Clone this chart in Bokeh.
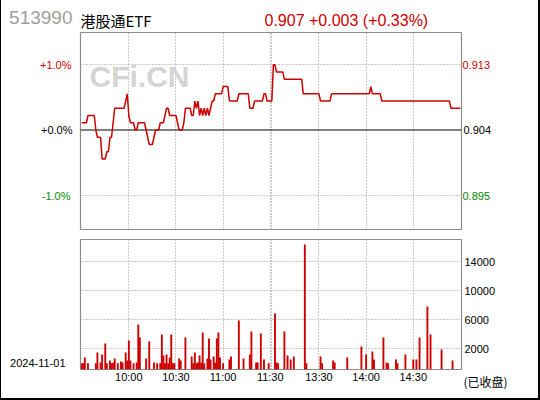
from bokeh.plotting import figure
from bokeh.models import Range1d, LinearAxis, FixedTicker, Grid, Span, Label
from bokeh.layouts import column
from bokeh.embed import file_html
from bokeh.resources import INLINE

# ---------------- data ----------------
symbol = "513990"
name = "港股通ETF"
trade_date = "2024-11-01"
status = "(已收盘)"
prev_close = 0.904
last_price = 0.907

# minute index from 9:30 (0) ... 11:30 (120), 13:00 (121) ... 15:00 (241)
price_minutes = [0, 3, 4, 8, 9, 10, 12, 13, 15, 16, 17, 18, 19, 20, 21, 27, 28, 29, 30, 31,
                 33, 34, 35, 36, 40, 41, 42, 43, 45, 46, 47, 49, 50, 52, 53, 54, 55, 56, 60, 61,
                 62, 64, 65, 66, 69, 70, 71, 72, 73, 74, 75, 76, 77, 78, 79, 80, 81, 82, 83, 84,
                 85, 89, 90, 93, 94, 99, 100, 106, 107, 109, 110, 115, 116, 117, 118, 121, 122, 123, 124, 128,
                 129, 140, 141, 151, 152, 158, 159, 183, 184, 185, 190, 191, 234, 235, 241]
prices = [0.905, 0.905, 0.906, 0.906, 0.904, 0.903, 0.903, 0.900, 0.900, 0.901, 0.901, 0.903, 0.903, 0.905, 0.907, 0.907, 0.908, 0.909, 0.906, 0.905,
          0.905, 0.904, 0.904, 0.905, 0.905, 0.904, 0.903, 0.902, 0.902, 0.903, 0.904, 0.904, 0.905, 0.905, 0.906, 0.907, 0.907, 0.906, 0.906, 0.905,
          0.904, 0.904, 0.905, 0.907, 0.907, 0.906, 0.906, 0.908, 0.907, 0.908, 0.906, 0.907, 0.906, 0.907, 0.906, 0.907, 0.906, 0.907, 0.908, 0.908,
          0.909, 0.909, 0.910, 0.910, 0.908, 0.908, 0.909, 0.909, 0.907, 0.907, 0.908, 0.908, 0.909, 0.909, 0.908, 0.908, 0.913, 0.913, 0.912, 0.912,
          0.911, 0.911, 0.909, 0.909, 0.908, 0.908, 0.909, 0.909, 0.910, 0.909, 0.909, 0.908, 0.908, 0.907, 0.907]

vol_minutes = [0, 1, 2, 4, 9, 10, 12, 13, 15, 16, 18, 19, 20, 21, 23, 25, 26, 28, 29, 30,
               31, 33, 35, 36, 37, 41, 43, 46, 48, 50, 51, 52, 53, 54, 55, 56, 57, 58, 59, 62,
               63, 66, 70, 71, 72, 73, 74, 75, 76, 77, 78, 80, 81, 82, 84, 85, 86, 87, 88, 90,
               94, 95, 100, 103, 107, 108, 111, 112, 114, 116, 119, 123, 124, 125, 129, 131, 133, 135, 142, 143,
               152, 153, 160, 161, 169, 178, 181, 185, 186, 192, 194, 195, 200, 201, 206, 211, 213, 215, 220, 222,
               229, 236]
volumes = [0, 0, 800, 0, 0, 1490, 110, 1210, 2730, 0, 390, 0, 110, 660, 0, 250, 110, 1490, 390, 3150,
           390, 0, 110, 5350, 3560, 660, 3010, 110, 0, 0, 3970, 1080, 0, 1210, 0, 800, 3970, 0, 0, 660,
           390, 3560, 940, 0, 1490, 0, 110, 1080, 110, 4250, 0, 660, 3420, 515, 940, 110, 3420, 4250, 800, 0,
           515, 940, 5910, 660, 1210, 4380, 110, 110, 4110, 515, 0, 6870, 110, 0, 4380, 1080, 515, 940, 16400, 0,
           940, 0, 390, 110, 800, 2320, 1210, 1630, 515, 3560, 110, 0, 515, 0, 1210, 515, 515, 3560, 7840, 3970,
           1900, 390]

time_ticks = [30, 60, 90, 120, 151, 181, 211]
time_labels = ["10:00", "10:30", "11:00", "11:30", "13:30", "14:00", "14:30"]
grid_minutes = [30, 60, 90, 120, 121, 151, 181, 211]
vol_ticks = [2000, 6000, 10000, 14000]

# ---------------- style ----------------
RED = "#cc0000"
GREEN = "#008c00"
GRID = "#959595"
FRAME = "#8c8c8c"
FONT = "Liberation Sans"
CJK = "Noto Sans CJK SC"
W = 537          # + 1px left and 2px right page border = 540
BL, BR = 79, 77  # frame from page x 80 to 461
HDR = 31

X0, X1 = -0.76, 241.7
P0, P1 = -1.519, 1.489
V0, V1 = -855, 17076

pct = [(p - prev_close) / prev_close * 100 for p in prices]
chg = last_price - prev_close
chg_pct = chg / prev_close * 100
header = f"{last_price:.3f} {chg:+.3f} ({chg_pct:+.2f}%)"

xr = Range1d(X0, X1)


def style_axis(ax, standoff, color="black", font=FONT, size="11px"):
    ax.axis_line_color = None
    ax.major_tick_line_color = None
    ax.minor_tick_line_color = None
    ax.major_tick_out = 0
    ax.major_tick_in = 0
    ax.minor_tick_out = 0
    ax.minor_tick_in = 0
    ax.major_label_standoff = standoff
    ax.major_label_text_font = font
    ax.major_label_text_font_size = size
    ax.major_label_text_color = color
    return ax


def dotted_grid(dim, ticks):
    return Grid(dimension=dim, ticker=FixedTicker(ticks=ticks), grid_line_color=GRID,
                grid_line_dash="1 2", grid_line_width=1)


def base_fig(h, x_range, y_range, top, bottom, outline):
    f = figure(width=W, height=h, x_range=x_range, y_range=y_range,
               output_backend="svg", toolbar_location=None,
               x_axis_location=None, y_axis_location=None,
               min_border_left=BL, min_border_right=BR, min_border_top=top, min_border_bottom=bottom,
               outline_line_color=outline, outline_line_width=1.2,
               background_fill_color="white", border_fill_color="white")
    f.xgrid.visible = False
    f.ygrid.visible = False
    return f


# ---------------- header strip (y measured downward from page top) ----------------
p0 = base_fig(HDR, Range1d(80, 461), Range1d(0, HDR), 0, 0, None)
sym_ax = LinearAxis(ticker=FixedTicker(ticks=[HDR - 16.7]), major_label_overrides={HDR - 16.7: symbol})
p0.add_layout(style_axis(sym_ax, 8, "#a0a0a0", FONT, "19px"), "left")
p0.add_layout(Label(x=80, y=HDR - 20.3, text=name, text_font=CJK, text_font_size="15px",
                    text_color="black", text_baseline="alphabetic"))
p0.add_layout(Label(x=264, y=HDR - 19.5, text=header, text_font=FONT, text_font_size="16px",
                    text_color=RED, text_baseline="alphabetic"))

# ---------------- price panel ----------------
p1 = base_fig(202, xr, Range1d(P0, P1), 1, 4, FRAME)
p1.add_layout(dotted_grid(0, grid_minutes), "center")
p1.add_layout(dotted_grid(1, [1.0, -1.0]), "center")
p1.add_layout(Span(location=0, dimension="width", line_color="black", line_width=1.2, level="underlay"))

# left labels: black axis next to the frame, coloured ones stacked behind it with negative standoff
left_specs = [(0.0, "+0.0%", "black", 8), (1.0, "+1.0%", RED, -33), (-1.0, "-1.0%", GREEN, -33)]
for lv, txt, col, so in left_specs:
    ax = LinearAxis(ticker=FixedTicker(ticks=[lv]), major_label_overrides={lv: txt})
    p1.add_layout(style_axis(ax, so, col), "left")
right_specs = [(0.0, "black", 2), (1.0, RED, -32), (-1.0, GREEN, -32)]
for lv, col, so in right_specs:
    ax = LinearAxis(ticker=FixedTicker(ticks=[lv]),
                    major_label_overrides={lv: f"{prev_close * (1 + lv / 100):.3f}"})
    p1.add_layout(style_axis(ax, so, col), "right")

p1.add_layout(Label(x=X0, y=P1, x_offset=9, y_offset=-43.5, text="CFi.CN", text_font=FONT,
                    text_font_style="bold", text_font_size="30px", text_color="#d4d4d4",
                    text_baseline="alphabetic", level="underlay"))

p1.line(price_minutes, pct, line_color=RED, line_width=1.5)

# ---------------- volume panel ----------------
p2 = base_fig(165, xr, Range1d(V0, V1), 6, 29, FRAME)
p2.add_layout(dotted_grid(0, grid_minutes), "center")
p2.add_layout(dotted_grid(1, vol_ticks), "center")

vax = LinearAxis(ticker=FixedTicker(ticks=vol_ticks))
p2.add_layout(style_axis(vax, 3), "right")
sax = LinearAxis(ticker=FixedTicker(ticks=[V0 + 1]), major_label_overrides={V0 + 1: "\n" + status})
style_axis(sax, -35, "black", CJK, "12px")
sax.major_label_text_line_height = 1.45
p2.add_layout(sax, "right")

dax = LinearAxis(ticker=FixedTicker(ticks=[0]), major_label_overrides={0: trade_date})
p2.add_layout(style_axis(dax, 15), "left")

tax = LinearAxis(ticker=FixedTicker(ticks=time_ticks),
                 major_label_overrides=dict(zip(time_ticks, time_labels)))
p2.add_layout(style_axis(tax, 1), "below")

p2.vbar(x=vol_minutes, top=volumes, bottom=V0, width=1.2, fill_color=RED, line_color=None)

layout = column(p0, p1, p2, styles={"border-left": "1px solid black",
                                    "border-right": "2px solid black",
                                    "border-bottom": "2px solid black"})
open("out.html", "w").write(file_html(layout, INLINE))
